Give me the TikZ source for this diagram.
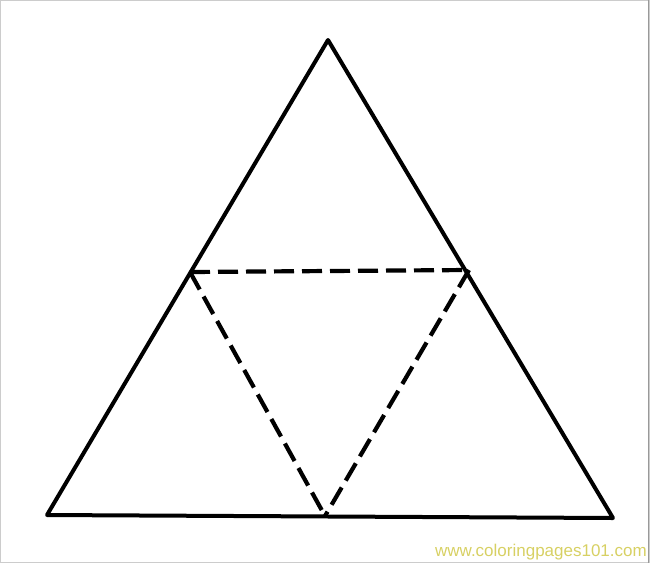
\documentclass[tikz,border=0pt]{standalone}
\usepackage{fontspec}
\setmainfont{Liberation Sans}
\begin{document}
\begin{tikzpicture}[x=1pt,y=-1pt,
  edge/.style={line width=4pt,line cap=round,line join=round,black},
  fold/.style={line width=4.2pt,dash pattern=on 20pt off 8pt,black},
  wmark/.style={font=\fontsize{17}{17}\selectfont,text=yellow!60!gray!90}]
\useasboundingbox (0,0) rectangle (650,563);
\draw[gray!40,line width=1pt] (0.5,0.5) rectangle (649.5,562.5);
\draw[gray!80,line width=1.5pt] (648.5,0) -- (648.5,563);
\coordinate (A) at (328,40);
\coordinate (B) at (47,515);
\coordinate (C) at (613,518);
\coordinate (L) at (190,272);
\coordinate (R) at (469,270);
\coordinate (M) at (325,516);
\draw[edge] (A) -- (B) -- (C) -- cycle;
\draw[fold] (L) -- (R);
\draw[fold] (L) -- (M);
\draw[fold] (R) -- (M);
\node[wmark,anchor=south east,inner sep=1pt] (w) at (648,561) {www.coloringpages101.com};
\end{tikzpicture}
\end{document}
